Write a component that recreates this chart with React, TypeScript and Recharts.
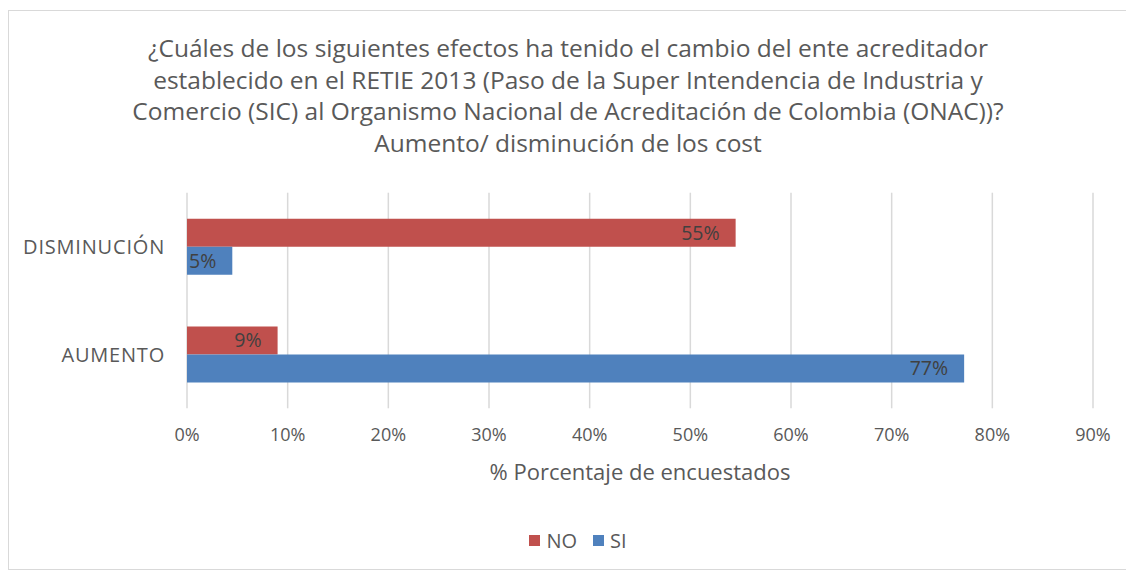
import React from 'react';
import { BarChart, Bar, XAxis, YAxis, CartesianGrid, LabelList } from 'recharts';

const categories = ['DISMINUCIÓN', 'AUMENTO'];
const noValues = [54.5, 9.0];
const siValues = [4.5, 77.2];
const xTicks = [0, 10, 20, 30, 40, 50, 60, 70, 80, 90];
const seriesNames = ['NO', 'SI'];
const seriesColors = ['#C0504D', '#4F81BD'];
const titleLines = [
  '¿Cuáles de los siguientes efectos ha tenido el cambio del ente acreditador',
  'establecido en el RETIE 2013 (Paso de la Super Intendencia de Industria y',
  'Comercio (SIC) al Organismo Nacional de Acreditación de Colombia (ONAC))?',
  'Aumento/ disminución de los cost',
];
const xAxisTitle = '% Porcentaje de encuestados';

const data = categories.map((c, i) => ({ cat: c, NO: noValues[i], SI: siValues[i] }));

const FONT = '"Open Sans", sans-serif';
const TXT = '#595959';

export default function App() {
  return (
    <div
      style={{
        position: 'relative',
        width: 1118,
        height: 558,
        marginTop: 2,
        border: '1px solid #d9d9d9',
        fontFamily: FONT,
        background: '#fff',
      }}
    >
      <div
        style={{
          position: 'absolute',
          left: 0,
          top: 21,
          width: 1118,
          textAlign: 'center',
          color: TXT,
          fontSize: 24.5,
          lineHeight: '31.7px',
        }}
      >
        {titleLines.map((l, i) => (
          <div key={i}>{l}</div>
        ))}
      </div>
      <div style={{ position: 'absolute', top: 0, left: 0 }}>
        <BarChart
          width={1118}
          height={558}
          data={data}
          layout="vertical"
          margin={{ top: 181.7, right: 34, left: 0, bottom: 130.7 }}
          barGap={0}
        >
          <CartesianGrid horizontal={false} stroke="#d9d9d9" strokeWidth={1.5} />
          <XAxis
            type="number"
            domain={[0, 90]}
            ticks={xTicks}
            interval={0}
            axisLine={false}
            tickLine={false}
            tickSize={0}
            tickMargin={20}
            height={30}
            tickFormatter={(v: number) => `${v}%`}
            tick={{ fontSize: 18, fill: TXT, fontFamily: FONT }}
          />
          <YAxis
            type="category"
            dataKey="cat"
            width={178}
            axisLine={false}
            tickLine={false}
            tickSize={0}
            tickMargin={22}
            tick={{ fontSize: 20, fill: TXT, fontFamily: FONT, letterSpacing: 0.8 }}
          />
          {seriesNames.map((s, i) => (
            <Bar key={s} dataKey={s} fill={seriesColors[i]} barSize={28} isAnimationActive={false}>
              <LabelList
                dataKey={s}
                position="insideRight"
                offset={16}
                fill="#404040"
                fontSize={19.5}
                fontFamily={FONT}
                formatter={(v: number) => `${Math.round(v)}%`}
              />
            </Bar>
          ))}
        </BarChart>
      </div>
      <div
        style={{
          position: 'absolute',
          left: 178,
          width: 906,
          top: 445,
          textAlign: 'center',
          color: TXT,
          fontSize: 22,
        }}
      >
        {xAxisTitle}
      </div>
      <div
        style={{
          position: 'absolute',
          left: 0,
          width: 1138,
          top: 516,
          display: 'flex',
          justifyContent: 'center',
          alignItems: 'center',
          color: TXT,
          fontSize: 20,
        }}
      >
        {seriesNames.map((s, i) => (
          <div key={s} style={{ display: 'flex', alignItems: 'center', marginRight: i === 0 ? 16 : 0 }}>
            <span style={{ display: 'inline-block', width: 11, height: 11, background: seriesColors[i], marginRight: 6 }} />
            <span>{s}</span>
          </div>
        ))}
      </div>
    </div>
  );
}
